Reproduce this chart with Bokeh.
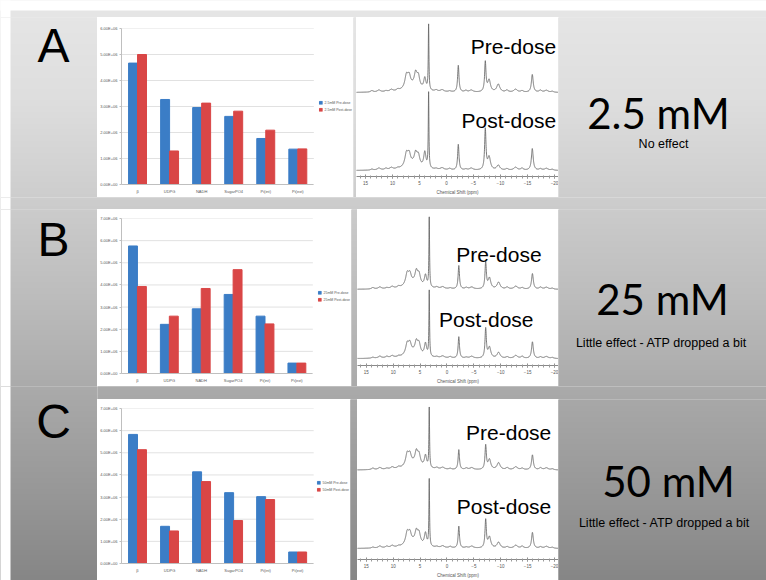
import numpy as np
from bokeh.plotting import figure
from bokeh.models import (ColumnDataSource, Range1d, FixedTicker,
                          SingleIntervalTicker, Legend, LegendItem)
from bokeh.layouts import row, column
from bokeh.transform import dodge
from bokeh.core.properties import value
from bokeh.embed import file_html
from bokeh.resources import INLINE

W, H = 766, 580

# ---------------- bar chart data (integrated peak areas) ----------------
metabolites = ["β", "UDPG", "NADH", "SugarPO4", "Pi(int)", "Pi(ext)"]

pre_2_5mM = [4.67e6, 3.27e6, 2.96e6, 2.62e6, 1.77e6, 1.36e6]
post_2_5mM = [5.00e6, 1.29e6, 3.13e6, 2.82e6, 2.09e6, 1.37e6]

pre_25mM = [5.76e6, 2.22e6, 2.92e6, 3.57e6, 2.59e6, 0.47e6]
post_25mM = [3.93e6, 2.59e6, 3.84e6, 4.69e6, 2.24e6, 0.47e6]

pre_50mM = [5.83e6, 1.68e6, 4.14e6, 3.20e6, 3.02e6, 0.52e6]
post_50mM = [5.14e6, 1.47e6, 3.70e6, 1.94e6, 2.89e6, 0.52e6]

area_ticks = [0, 1e6, 2e6, 3e6, 4e6, 5e6, 6e6, 7e6]
area_tick_labels = ["0.00E+00", "1.00E+06", "2.00E+06", "3.00E+06",
                    "4.00E+06", "5.00E+06", "6.00E+06", "7.00E+06"]

dose_labels = ["2.5mM", "25mM", "50mM"]
panel_letters = ["A", "B", "C"]
dose_titles = ["2.5 mM", "25 mM", "50 mM"]
dose_notes = ["No effect", "Little effect - ATP dropped a bit",
              "Little effect - ATP dropped a bit"]

# ---------------- 31P spectra: peak tables ----------------
peak_ppm = [13.8, 12.5, 11.2, 10.2, 9.0, 7.4, 6.9, 6.2, 5.7, 5.2, 4.0, 3.3,
            1.9, 0.8, -0.6, -2.2, -3.6, -4.6, -7.2, -7.9, -9.6, -11.2,
            -12.8, -14.0, -15.9, -17.4, -18.5, -19.6]
peak_hw = [0.3, 0.35, 0.3, 0.35, 0.3, 0.35, 0.3, 1.6, 0.3, 0.3, 0.25, 0.07,
           0.3, 0.4, 0.3, 0.15, 0.3, 0.4, 0.15, 0.3, 0.35, 0.3,
           0.4, 0.3, 0.2, 0.3, 0.4, 0.3]

spec_pre_2_5mM = [1.5, 2, 1, 2, 1.5, 13, 10, 6, 13, 11, 12, 66,
                  1.5, 2, 1, 27, 1.5, 2, 30, 12, 8, 2, 3, 1.5, 18, 2, 2, 1]
spec_post_2_5mM = [1, 2, 1.5, 2, 1, 13, 10, 6, 11, 10, 16, 76,
                   1, 2, 1.5, 26, 1, 2, 41, 13, 5, 1.5, 3, 2, 22, 1.5, 2, 1]
spec_pre_25mM = [1.5, 2, 1, 2, 1.5, 12, 9, 6, 12, 10, 12, 71,
                 1.5, 2, 1, 24, 1.5, 2, 27, 11, 7, 2, 3, 1.5, 16, 2, 2, 1]
spec_post_25mM = [1, 2, 1.5, 2, 1, 11, 9, 6, 11, 10, 13, 67,
                  1, 2, 1.5, 22, 1, 2, 30, 11, 6, 1.5, 3, 2, 17, 1.5, 2, 1]
spec_pre_50mM = [1.5, 2, 1, 2, 1.5, 12, 9, 6, 12, 10, 12, 60,
                 1.5, 2, 1, 20, 1.5, 2, 24, 10, 7, 2, 3, 1.5, 15, 2, 2, 1]
spec_post_50mM = [1, 2, 1.5, 2, 1, 12, 9, 6, 11, 10, 13, 67,
                  1, 2, 1.5, 22, 1, 2, 28, 11, 6, 1.5, 3, 2, 16, 1.5, 2, 1]

BLUE = "#3b7dc6"
RED = "#d94646"
SPEC_GREY = "#6a6a6a"

# ---------------- slide background (vertical grey gradient) ----------------
# The gradient image overhangs the slide on every side so that image
# smoothing never blends its edges into view.
stop_y = [10, 100, 200, 300, 400, 500, 580]
stop_v = [230, 222, 205, 188, 168, 150, 134]
PAD_Y, PAD_X = 10, 40
IMG_ROWS, IMG_COLS = H + 2 * PAD_Y, 80
rows_y = (H + PAD_Y) - 0.5 - np.arange(IMG_ROWS)   # image row 0 sits at the bottom
shade = np.interp(rows_y, stop_y, stop_v).astype(np.uint8)
shade[rows_y < 10] = 255                          # white margin along the top
bg_img = np.empty((IMG_ROWS, IMG_COLS), dtype=np.uint32)
px = bg_img.view(dtype=np.uint8).reshape((IMG_ROWS, IMG_COLS, 4))
px[:, :, 0] = shade[:, None]
px[:, :, 1] = shade[:, None]
px[:, :, 2] = shade[:, None]
px[:, :, 3] = 255
bg_src = ColumnDataSource(dict(image=[bg_img]))


def grey_between(y0, y1):
    """Mean slide shade between two heights (y downwards), as a hex colour."""
    ys = np.arange(y0, y1) + 0.5
    v = int(round(float(np.mean(np.interp(ys, stop_y, stop_v)))))
    return "#%02x%02x%02x" % (v, v, v)


def base_fig(w, h, **kw):
    return figure(width=w, height=h, output_backend="svg", toolbar_location=None,
                  frame_align=False, **kw)


def bg(x0, y0, x1, y1):
    """A piece of the slide background covering the box (x0, y0)-(x1, y1), y downwards."""
    fill = grey_between(max(y0, 10), max(y1, 11))
    p = base_fig(x1 - x0, y1 - y0, x_range=Range1d(x0, x1), y_range=Range1d(H - y1, H - y0),
                 x_axis_location=None, y_axis_location=None, min_border=0,
                 outline_line_color=None, border_fill_color=fill,
                 background_fill_color=fill)
    p.grid.visible = False
    p.image_rgba(image="image", x=-PAD_X, y=-PAD_Y, dw=W + 2 * PAD_X, dh=IMG_ROWS,
                 source=bg_src)
    p.quad(left=-PAD_X, right=10, bottom=-PAD_Y, top=H + PAD_Y, color="white", line_color=None)
    return p


def add_text(p, x, y_mid, txt, size, font, align="center"):
    p.text(x=[x], y=[H - y_mid], text=[txt], text_font=value(font),
           text_font_size=size, text_align=align, text_baseline="middle",
           text_color="black")


def bar_chart(pre, post, dose, ymax, w, h, left, right, top, bottom):
    """Clustered bar chart; the frame runs to the right edge so the legend sits beside the bars."""
    n = len(metabolites)
    idx = list(range(n))
    src = ColumnDataSource(dict(idx=idx, pre=pre, post=post))
    cat_px = (w - left - right) / n
    x_end = n - 0.5 + right / cat_px
    p = base_fig(w, h, x_range=Range1d(-0.5, x_end), y_range=Range1d(0, ymax),
                 min_border_left=left, min_border_right=0,
                 min_border_top=top, min_border_bottom=bottom,
                 border_fill_color="white", background_fill_color="white",
                 outline_line_color=None)
    r_pre = p.vbar(x=dodge("idx", -0.14, range=p.x_range), top="pre", width=0.28,
                   source=src, fill_color=BLUE, line_color=BLUE)
    r_post = p.vbar(x=dodge("idx", 0.14, range=p.x_range), top="post", width=0.28,
                    source=src, fill_color=RED, line_color=RED)
    ticks = [t for t in area_ticks if t <= ymax]
    p.yaxis.ticker = FixedTicker(ticks=ticks)
    p.yaxis.major_label_overrides = {t: lab for t, lab in zip(area_ticks, area_tick_labels) if t <= ymax}
    p.xaxis.ticker = FixedTicker(ticks=idx)
    p.xaxis.major_label_overrides = {i: m for i, m in zip(idx, metabolites)}
    p.xaxis.bounds = (-0.5, n - 0.5)
    for ax in (p.xaxis[0], p.yaxis[0]):
        ax.major_label_text_font_size = "4px"
        ax.major_label_text_color = "#595959"
        ax.major_label_text_font = "Liberation Sans"
        ax.axis_line_color = "#bfbfbf"
        ax.major_tick_line_color = "#bfbfbf"
        ax.major_tick_in = 0
        ax.major_tick_out = 2
        ax.minor_tick_line_color = None
        ax.major_label_standoff = 2
    p.xaxis.major_tick_line_color = None
    p.grid.visible = False
    # horizontal gridlines stop where the category axis ends
    p.segment(x0=[-0.5] * len(ticks), x1=[n - 0.5] * len(ticks), y0=ticks, y1=ticks,
              line_color="#d9d9d9", line_width=0.8, level="underlay")
    leg = Legend(items=[LegendItem(label=f"{dose} Pre-dose", renderers=[r_pre]),
                        LegendItem(label=f"{dose} Post-dose", renderers=[r_post])],
                 location="center_right", label_text_font_size="3.5px",
                 label_text_color="#595959", glyph_width=4, glyph_height=4,
                 label_height=4, label_width=10, label_standoff=2, spacing=3,
                 padding=1, margin=1, border_line_color=None,
                 background_fill_alpha=0)
    p.add_layout(leg)
    return p


ppm = np.linspace(17.0, -21.0, 2400)


def trace(heights, offset):
    y = np.full_like(ppm, float(offset))
    for c, hw, hgt in zip(peak_ppm, peak_hw, heights):
        y += hgt * hw ** 2 / ((ppm - c) ** 2 + hw ** 2)
    return y


def spectrum(pre, post, w, h, bottom, pre_off, post_off, pre_lab, post_lab):
    fh = h - bottom
    p = base_fig(w, h, x_range=Range1d(16.65, -20.75), y_range=Range1d(0, fh),
                 min_border_left=0, min_border_right=0, min_border_top=0,
                 min_border_bottom=bottom, y_axis_location=None,
                 border_fill_color="white", background_fill_color="white",
                 outline_line_color=None)
    p.grid.visible = False
    p.line(ppm, trace(pre, pre_off), color=SPEC_GREY, line_width=0.9)
    p.line(ppm, trace(post, post_off), color=SPEC_GREY, line_width=0.9)
    ax = p.xaxis[0]
    ax.ticker = SingleIntervalTicker(interval=5, num_minor_ticks=5)
    ax.axis_label = "Chemical Shift (ppm)"
    ax.axis_label_text_font_size = "4.5px"
    ax.axis_label_text_font_style = "normal"
    ax.axis_label_text_color = "#555555"
    ax.axis_label_standoff = 2
    ax.major_label_text_font_size = "4.5px"
    ax.major_label_text_color = "#555555"
    ax.major_label_standoff = 2
    ax.axis_line_color = "#888888"
    ax.major_tick_line_color = "#888888"
    ax.minor_tick_line_color = "#999999"
    ax.major_tick_in = 2
    ax.major_tick_out = 2
    ax.minor_tick_in = 1
    ax.minor_tick_out = 2
    for (x, ym), txt in ((pre_lab, "Pre-dose"), (post_lab, "Post-dose")):
        p.text(x=[x], y=[ym], text=[txt], text_font=value("Liberation Sans"),
               text_font_size="21px", text_align="right", text_baseline="middle",
               text_color="black")
    return p


def letter_cell(x0, y0, x1, y1, letter, mid):
    p = bg(x0, y0, x1, y1)
    add_text(p, 53, mid, letter, "48px", "Liberation Sans")
    return p


def dose_cell(x0, y0, x1, y1, title, note, title_mid, note_mid, cx_title, cx_note):
    p = bg(x0, y0, x1, y1)
    add_text(p, cx_title, title_mid, title, "42px", "Lato")
    add_text(p, cx_note, note_mid, note, "12.5px", "Liberation Sans")
    return p


# ---------------- row A (y 17-197) ----------------
row_a = row(
    letter_cell(0, 17, 97, 197, panel_letters[0], 45),
    column(bg(97, 17, 353, 23),
           bar_chart(pre_2_5mM, post_2_5mM, dose_labels[0], 6e6, 256, 174, 22, 40, 5, 13)),
    bg(353, 17, 356, 197),
    spectrum(spec_pre_2_5mM, spec_post_2_5mM, 202, 180, 19, 85, 6,
             (-20.3, 178 - 46), (-20.3, 178 - 121)),
    dose_cell(558, 17, 766, 197, dose_titles[0], dose_notes[0], 112, 143, 658, 663),
)

# ---------------- row B (y 209-386) ----------------
row_b = row(
    letter_cell(0, 209, 97, 386, panel_letters[1], 239),
    column(bg(97, 209, 351, 212),
           bar_chart(pre_25mM, post_25mM, dose_labels[1], 7e6, 254, 174, 22, 39, 6, 13)),
    bg(351, 209, 357, 386),
    spectrum(spec_pre_25mM, spec_post_25mM, 201, 177, 17, 78, 7,
             (-17.6, 369 - 255), (-16.1, 369 - 322)),
    dose_cell(558, 209, 766, 386, dose_titles[1], dose_notes[1], 298, 342, 662, 661),
)

# ---------------- row C (y 386-580; panels from 399) ----------------
row_c = row(
    letter_cell(0, 386, 97, 580, panel_letters[2], 421),
    column(
        bg(97, 386, 766, 399),
        row(
            bar_chart(pre_50mM, post_50mM, dose_labels[2], 7e6, 253, 181, 23, 37, 9, 17),
            bg(350, 399, 357, 580),
            spectrum(spec_pre_50mM, spec_post_50mM, 201, 181, 20, 90, 11,
                     (-19.4, 560 - 432), (-19.4, 560 - 507)),
            dose_cell(558, 399, 766, 580, dose_titles[2], dose_notes[2], 480, 522, 668, 664),
        ),
    ),
)

layout = column(
    bg(0, 0, 766, 17),
    row_a,
    bg(0, 197, 766, 209),
    row_b,
    row_c,
)

open("out.html", "w").write(file_html(layout, INLINE))
